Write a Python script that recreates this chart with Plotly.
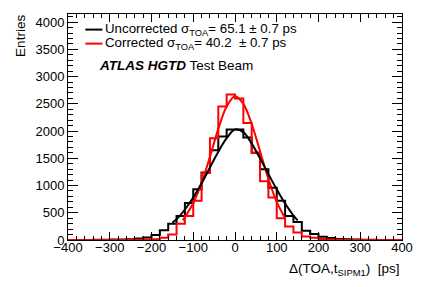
import plotly.graph_objects as go

# ---- data ----
bin_edges = list(range(-400, 401, 20))
uncorrected_counts = [0, 0, 2, 3, 5, 7, 10, 15, 28, 45,
                      90, 180, 300, 440, 680, 930, 1240, 1650, 1900, 2030,
                      2030, 1880, 1600, 1300, 960, 720, 440, 330, 170, 110,
                      60, 35, 20, 12, 8, 5, 3, 2, 1, 0]
corrected_counts = [0, 0, 0, 0, 0, 0, 1, 2, 4, 8,
                    15, 40, 100, 300, 440, 720, 1230, 1870, 2450, 2670,
                    2600, 2150, 1600, 1080, 780, 400, 250, 140, 65, 40,
                    20, 10, 5, 2, 1, 0, 0, 0, 0, 0]

fit_unc_x = [-150, -140, -120, -100, -80, -60, -40, -20, 0, 20, 40, 60, 80, 100, 120, 140, 150]
fit_unc_y = [320, 380, 560, 780, 1040, 1330, 1620, 1870, 2030, 1980, 1770, 1500, 1210, 930, 670, 450, 360]
fit_cor_x = [-125, -120, -100, -80, -60, -40, -20, 0, 20, 40, 60, 80, 100, 120]
fit_cor_y = [360, 420, 680, 1050, 1530, 2040, 2450, 2640, 2500, 2130, 1630, 1120, 700, 400]

legend_unc = "Uncorrected σ<sub>TOA</sub>= 65.1 ± 0.7 ps"
legend_cor = "Corrected σ<sub>TOA</sub>= 40.2  ± 0.7 ps"

FONT = "Liberation Sans, Arial, Helvetica, sans-serif"

fig = go.Figure()

def step_xy(edges, counts):
    return edges, list(counts) + [counts[-1]]

sx, sy = step_xy(bin_edges, uncorrected_counts)
fig.add_trace(go.Scatter(x=sx, y=sy, mode="lines", line=dict(color="black", width=2, shape="hv"),
                         name="Uncorrected", showlegend=False))
sx, sy = step_xy(bin_edges, corrected_counts)
fig.add_trace(go.Scatter(x=sx, y=sy, mode="lines", line=dict(color="#ff0000", width=2, shape="hv"),
                         name="Corrected", showlegend=False))
fig.add_trace(go.Scatter(x=fit_cor_x, y=fit_cor_y, mode="lines",
                         line=dict(color="#ff0000", width=2, shape="spline"), showlegend=False))
fig.add_trace(go.Scatter(x=fit_unc_x, y=fit_unc_y, mode="lines",
                         line=dict(color="black", width=2, shape="spline"), showlegend=False))

axis_common = dict(showgrid=False, zeroline=False, showline=True, linecolor="black", linewidth=1,
                   mirror="ticks", ticks="inside", tickcolor="black", automargin=False,
                   tickfont=dict(family=FONT, size=13, color="black"))

fig.update_xaxes(range=[-400, 400], dtick=100, tick0=0, ticklen=8, ticklabelstandoff=-5,
                 minor=dict(dtick=20, ticks="inside", ticklen=4, tickcolor="black"),
                 **axis_common)
fig.update_yaxes(range=[0, 4150], dtick=500, tick0=0, ticklen=10,
                 minor=dict(dtick=100, ticks="inside", ticklen=5, tickcolor="black"),
                 **axis_common)

# legend keys (paper coordinates)
legend_rows = [(legend_unc, "black", 0.931), (legend_cor, "#ff0000", 0.869)]
shapes = []
annotations = []
for text, color, yp in legend_rows:
    shapes.append(dict(type="line", xref="paper", yref="paper", x0=0.052, x1=0.103, y0=yp, y1=yp,
                       line=dict(color=color, width=2)))
    annotations.append(dict(text=text, xref="paper", yref="paper", x=0.104, y=yp,
                            xanchor="left", yanchor="middle", showarrow=False,
                            font=dict(family=FONT, size=13.3)))

annotations += [
    dict(text="<b><i>ATLAS HGTD</i></b> Test Beam", xref="paper", yref="paper",
         x=0.088, y=0.774, xanchor="left", yanchor="middle", showarrow=False,
         font=dict(family=FONT, size=13.5)),
    dict(text="Entries", xref="paper", yref="paper", x=-0.143, y=1.006,
         xanchor="center", yanchor="top", textangle=-90, showarrow=False,
         font=dict(family=FONT, size=13.5)),
    dict(text="Δ(TOA,t<sub>SIPM1</sub>)  [ps]", xref="paper", yref="paper", x=1.0, y=-0.13,
         xanchor="right", yanchor="middle", showarrow=False,
         font=dict(family=FONT, size=13.5)),
]

# the page body adds an 8px margin, so the figure is 8px smaller than the window
fig.update_layout(
    width=415, height=279,
    margin=dict(l=60, r=21, t=6, b=47, autoexpand=False),
    plot_bgcolor="white", paper_bgcolor="white",
    font=dict(family=FONT, size=13, color="black"),
    showlegend=False,
    shapes=shapes,
    annotations=annotations,
)

fig.write_html("out.html")
